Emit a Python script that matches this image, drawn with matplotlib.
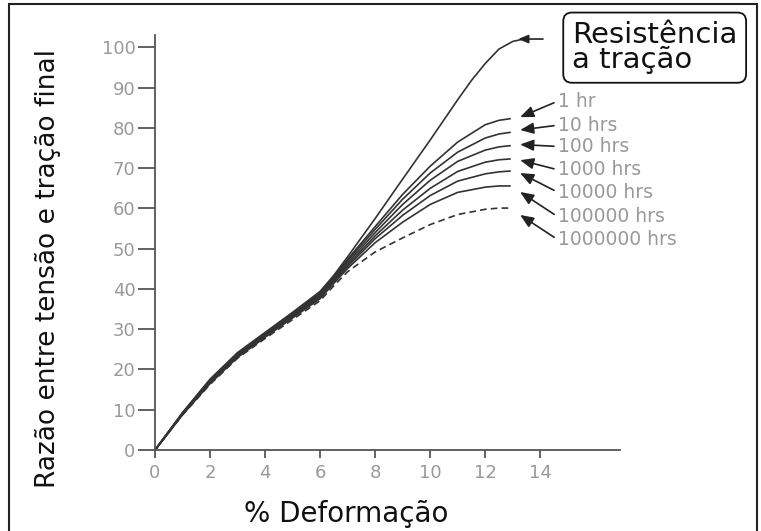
import numpy as np
import matplotlib
matplotlib.use('Agg')
from matplotlib import pyplot as plt
from matplotlib.patches import Rectangle

# strain (%) points
strain = [0, 1, 2, 3, 4, 5, 6, 6.5, 7, 8, 9, 10, 11, 12, 12.5, 12.9]
strain_tensile = [0, 1, 2, 3, 4, 5, 6, 6.5, 7, 8, 9, 10, 11, 11.5, 12, 12.5, 13, 13.4]

# ratio of stress to ultimate tensile strength
tensile = [0, 9.3, 17.6, 24.2, 29.2, 34.2, 39.4, 43.4, 48, 57.5, 67.3, 77, 87, 91.8, 96, 99.6, 101.5, 102.1]
hr_1 = [0, 9.2, 17.4, 24, 29, 33.9, 39.1, 43.0, 47.4, 55.5, 63.5, 70.5, 76.5, 80.8, 81.9, 82.3]
hr_10 = [0, 9.1, 17.2, 23.8, 28.8, 33.7, 38.8, 42.7, 47, 54.8, 62.3, 68.8, 74, 77.5, 78.5, 78.9]
hr_100 = [0, 9.0, 17.0, 23.6, 28.6, 33.5, 38.5, 42.4, 46.5, 54, 61, 67, 71.7, 74.5, 75.3, 75.6]
hr_1000 = [0, 8.9, 16.8, 23.4, 28.4, 33.2, 38.2, 42.1, 46, 53.2, 59.6, 65, 69.2, 71.5, 72.1, 72.3]
hr_10000 = [0, 8.8, 16.6, 23.2, 28.2, 33.0, 37.9, 41.8, 45.6, 52.5, 58.3, 63.2, 66.8, 68.6, 69.1, 69.3]
hr_100000 = [0, 8.8, 16.5, 23.0, 28.0, 32.8, 37.6, 41.4, 45.1, 51.5, 56.6, 61, 64, 65.3, 65.6, 65.6]
hr_1000000 = [0, 8.7, 16.3, 22.8, 27.7, 32.4, 37.1, 40.8, 44.3, 49.2, 52.7, 56, 58.5, 59.8, 60.1, 60.1]

creep_curves = [hr_1, hr_10, hr_100, hr_1000, hr_10000, hr_100000]
creep_labels = ['1 hr', '10 hrs', '100 hrs', '1000 hrs', '10000 hrs', '100000 hrs', '1000000 hrs']
label_y = [86.7, 80.7, 75.4, 69.6, 64.0, 57.9, 52.2]
arrow_y = [82.7, 79.5, 75.9, 72.0, 68.8, 64.1, 58.4]

xticks = [0, 2, 4, 6, 8, 10, 12, 14]
yticks = [0, 10, 20, 30, 40, 50, 60, 70, 80, 90, 100]

W, H = 761, 531
fig = plt.figure(figsize=(W/100, H/100), dpi=100)
ax = fig.add_axes([155/W, 81/H, 465/W, 415/H])

line_col = '#333333'
ax.plot(strain_tensile, tensile, color=line_col, lw=1.2)
for c in creep_curves:
    ax.plot(strain, c, color=line_col, lw=1.2)
ax.plot(strain, hr_1000000, color=line_col, lw=1.2, ls=(0, (4, 2.5)))

ax.set_xlim(0, 16.9)
ax.set_ylim(0, 103.1)
ax.set_xticks(xticks)
ax.set_yticks(yticks)
for s in ['top', 'right']:
    ax.spines[s].set_visible(False)
for s in ['left', 'bottom']:
    ax.spines[s].set_color('#555555')
    ax.spines[s].set_linewidth(1.3)
ax.tick_params(axis='x', length=6, width=1.3, color='#555555', pad=4,
               labelsize=13, labelcolor='#999999')
ax.tick_params(axis='y', length=12, width=1.3, color='#555555', pad=2,
               labelsize=13, labelcolor='#999999')

# creep labels with arrows
for lab, ty, ay in zip(creep_labels, label_y, arrow_y):
    ax.annotate(lab, xy=(13.27, ay), xytext=(14.65, ty), ha='left', va='center',
                fontsize=13.5, color='#999999', annotation_clip=False,
                arrowprops=dict(arrowstyle='-|>,head_length=0.6,head_width=0.25',
                                color='#222222', lw=1.2, relpos=(0, 0.5),
                                shrinkA=1, shrinkB=0))

ax.annotate('', xy=(13.2, 102.1), xytext=(14.1, 102.1), annotation_clip=False,
            arrowprops=dict(arrowstyle='-|>,head_length=0.6,head_width=0.25',
                            color='#222222', lw=1.2, shrinkA=0, shrinkB=0))

fig.text(572/W, 1-68/H, 'Resistência\na tração', fontsize=21, ha='left', va='baseline',
         linespacing=0.85, color='#111111',
         bbox=dict(boxstyle='round,pad=0.3', fc='white', ec='#111111', lw=1.3))

fig.text(55/W, 1-269/H, 'Razão entre tensão e tração final', fontsize=19, rotation=90,
         rotation_mode='anchor', ha='center', va='baseline', color='#111111')
fig.text(346/W, 9/H, '% Deformação', fontsize=20, ha='center', va='baseline', color='#111111')

# outer frame
fig.patches.append(Rectangle((9/W, -0.05), 748/W, 1.05-4/H, transform=fig.transFigure,
                             fill=False, ec='#222222', lw=1.5))

plt.savefig('out.png', dpi=100)
